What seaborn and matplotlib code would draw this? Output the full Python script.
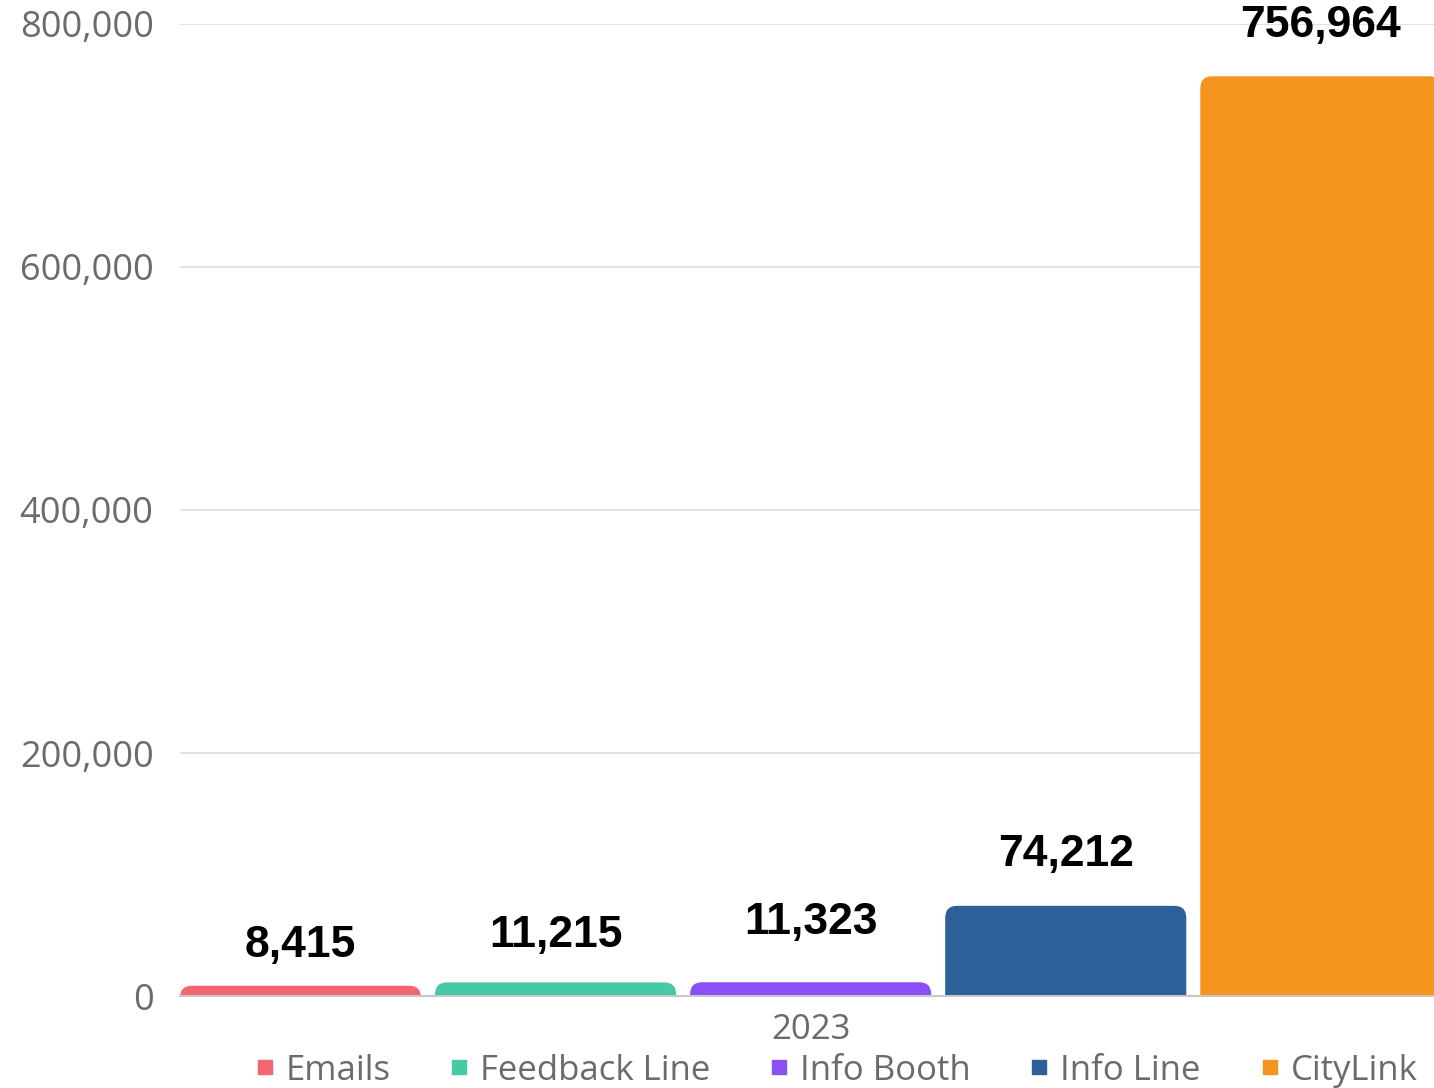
import numpy as np
import pandas as pd
import matplotlib
matplotlib.use('Agg')
import matplotlib.pyplot as plt
import seaborn as sns
from matplotlib.patches import FancyBboxPatch
from matplotlib.lines import Line2D
from matplotlib.ticker import StrMethodFormatter

## DADOS
years = ['2023'] * 5
channels = ['Emails', 'Feedback Line', 'Info Booth', 'Info Line', 'CityLink']
values = [8415, 11215, 11323, 74212, 756964]
colors = ['#F4666E', '#45C9A7', '#8A50F6', '#2D5F98', '#F5931F']
y_ticks = [0, 200000, 400000, 600000, 800000]

df = pd.DataFrame({'year': years, 'channel': channels, 'value': values})

sns.set_style('white')
plt.rcParams['font.family'] = ['Open Sans', 'DejaVu Sans']

W, H = 1434, 1088
fig = plt.figure(figsize=(W / 100, H / 100), dpi=100)
ax = fig.add_axes([180 / W, 1 - 996 / H, (W - 180) / W, (996 - 24) / H])

sns.barplot(data=df, x='year', y='value', hue='channel', palette=colors,
            saturation=1, gap=0.055, legend=False, ax=ax, zorder=3)

ax.set_ylim(0, 800000)
ax.set_xlim(-0.3956, 0.391)
ax.set_yticks(y_ticks)
ax.yaxis.set_major_formatter(StrMethodFormatter('{x:,.0f}'))
ax.set_xlabel('')
ax.set_ylabel('')
ax.yaxis.grid(True, color='#e2e2e2', lw=1.5, zorder=0)
ax.set_axisbelow(True)
for s in ['top', 'right', 'left']:
    ax.spines[s].set_visible(False)
ax.spines['bottom'].set_color('#c8c8c8')
ax.spines['bottom'].set_linewidth(1.5)
ax.spines['bottom'].set_zorder(4)
ax.tick_params(axis='y', length=0, pad=19, labelsize=26, labelcolor='#6b6b6b')
ax.tick_params(axis='x', length=0, pad=12, labelsize=25, labelcolor='#6b6b6b')

## RÓTULOS DOS VALORES
label_pad = [14, 19, 28, 22, 22]
for i, cont in enumerate(ax.containers):
    ax.bar_label(cont, labels=[f'{values[i]:,}'], padding=label_pad[i],
                 fontsize=32, fontweight='bold', family='Liberation Sans',
                 color='black', clip_on=False)

## CANTOS ARREDONDADOS
ax_w = (W - 180)
ax_h = (996 - 24)
x0, x1 = ax.get_xlim()
rx = 12 / (ax_w / (x1 - x0))
ry = 12 / (ax_h / 800000)
for cont in ax.containers:
    for bar in cont:
        bx, bw, bh = bar.get_x(), bar.get_width(), bar.get_height()
        fc = bar.get_facecolor()
        bar.set_visible(False)
        rp = FancyBboxPatch((bx, -2 * ry), bw, bh + 2 * ry,
                            boxstyle=f'round,pad=0,rounding_size={rx}',
                            mutation_aspect=ry / rx, facecolor=fc,
                            edgecolor='none', zorder=3)
        ax.add_patch(rp)

## LEGENDA
handles = [Line2D([], [], marker='s', ls='', color=c, markersize=10) for c in colors]
fig.legend(handles, channels, loc='center', bbox_to_anchor=(0.584, 0.016),
           ncol=5, frameon=False, fontsize=25, labelcolor='#6b6b6b',
           handlelength=0.4, handletextpad=0.4, columnspacing=1.78,
           borderpad=0)

fig.savefig('out.png', dpi=100)
